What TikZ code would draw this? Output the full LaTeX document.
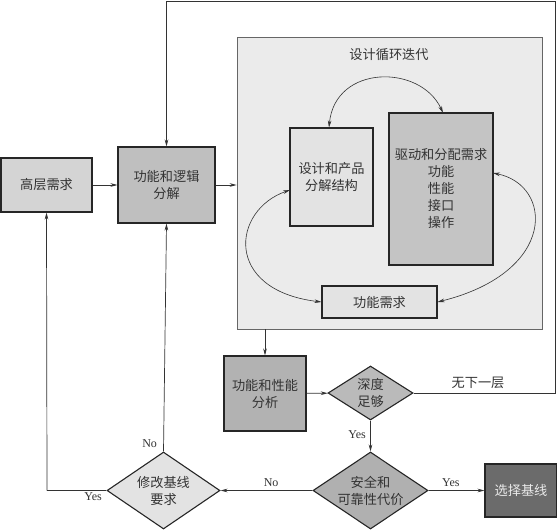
\documentclass[tikz,border=0pt]{standalone}
\usepackage{fontspec}
\setmainfont{Liberation Serif}
\newfontfamily\cjk{Noto Sans CJK SC}
\usetikzlibrary{shapes.geometric,arrows.meta}
\begin{document}
\begin{tikzpicture}[x=1pt,y=-1pt,
  every node/.style={font=\cjk\fontsize{13.2}{17}\selectfont, text=black!80},
  box/.style={draw=black!85, line width=1.1pt, inner sep=0pt, align=center},
  dia/.style={diamond, draw=black!85, line width=1.1pt, inner sep=0pt, align=center, aspect=1.5},
  lab/.style={font=\fontsize{12}{14}\selectfont, text=black!80},
  arr/.style={draw=black!80, line width=0.7pt, -{Stealth[length=7pt,width=3.6pt]}},
  darr/.style={draw=black!80, line width=0.6pt, {Stealth[length=7pt,width=3.6pt]}-{Stealth[length=7pt,width=3.6pt]}},
  ln/.style={draw=black!80, line width=0.7pt}]
\useasboundingbox (0,0) rectangle (557,530);
% panel
\node[draw=black!60, line width=0.7pt, fill=black!8, minimum width=305pt, minimum height=292pt, inner sep=0pt] (panel) at (389.5,183) {};
\node (title) at (389,55) {设计循环迭代};
% boxes
\node[box, fill=black!17, minimum width=91pt, minimum height=54pt] (hl) at (46.5,185) {高层需求};
\node[box, fill=black!25, minimum width=97pt, minimum height=76pt] (fl) at (166.5,185) {功能和逻辑\\分解};
\node[box, fill=black!11, minimum width=83pt, minimum height=98pt] (dps) at (331.5,177) {设计和产品\\分解结构};
\node[box, fill=black!23, minimum width=104pt, minimum height=152pt] (drv) at (441,189) {驱动和分配需求\\功能\\性能\\接口\\操作};
\node[box, fill=black!11, minimum width=115pt, minimum height=32pt] (fr) at (379.5,302) {功能需求};
\node[box, fill=black!30, minimum width=82pt, minimum height=75pt] (fpa) at (265,393.5) {功能和性能\\分析};
\node[dia, fill=black!27, minimum width=85pt, minimum height=54pt] (depth) at (370.5,393) {深度\\足够};
\node[dia, fill=black!31, minimum width=115pt, minimum height=77pt] (safe) at (370.5,490.5) {安全和\\可靠性代价};
\node[dia, fill=black!11, minimum width=113pt, minimum height=77pt] (mod) at (163.5,490.5) {修改基线\\要求};
\node[box, fill=black!58, minimum width=72pt, minimum height=53pt, text=white!92!black] (sel) at (521,490.5) {选择基线};
% coordinates
\coordinate (c1) at (555.5,393);
\coordinate (c2) at (555.5,1);
\coordinate (c3) at (47,490.5);
% connectors
\draw[arr] (hl) -- (fl);
\draw[arr] (fl) -- (fl -| panel.west);
\draw[arr] (panel.south -| fpa) -- (fpa.north);
\draw[arr] (fpa) -- (depth);
\draw[ln] (depth.east) -- (c1) -- (c2) -- (c2 -| fl);
\draw[arr] (c2 -| fl) -- (fl.north);
\node (none) at (478,383) {无下一层};
\draw[arr] (depth.south) -- (safe.north) node[lab, pos=0.45, left=1pt] (y1) {Yes};
\draw[arr] (safe.east) -- (sel.west) node[lab, pos=0.4, above=0pt] (y2) {Yes};
\draw[arr] (safe.west) -- (mod.east) node[lab, pos=0.45, above=0pt] (n1) {No};
\draw[arr] (mod.north) -- (fl.south);
\node[lab, anchor=south east] (n2) at ([xshift=-3pt]mod.north) {No};
\draw[ln] (mod.west) -- (c3);
\draw[arr] (c3) -- (hl.south);
\node[lab, anchor=north east] (y3) at ([xshift=-1pt,yshift=1pt]mod.west) {Yes};
% inner arcs
\draw[darr] (dps.north -| 329,0) .. controls (335,64) and (421,64) .. (443,113);
\draw[darr] (290,190) .. controls (232,210) and (223,290) .. (fr.west);
\draw[darr] (493,173) .. controls (553,185) and (558,272) .. (fr.east);
\end{tikzpicture}
\end{document}
